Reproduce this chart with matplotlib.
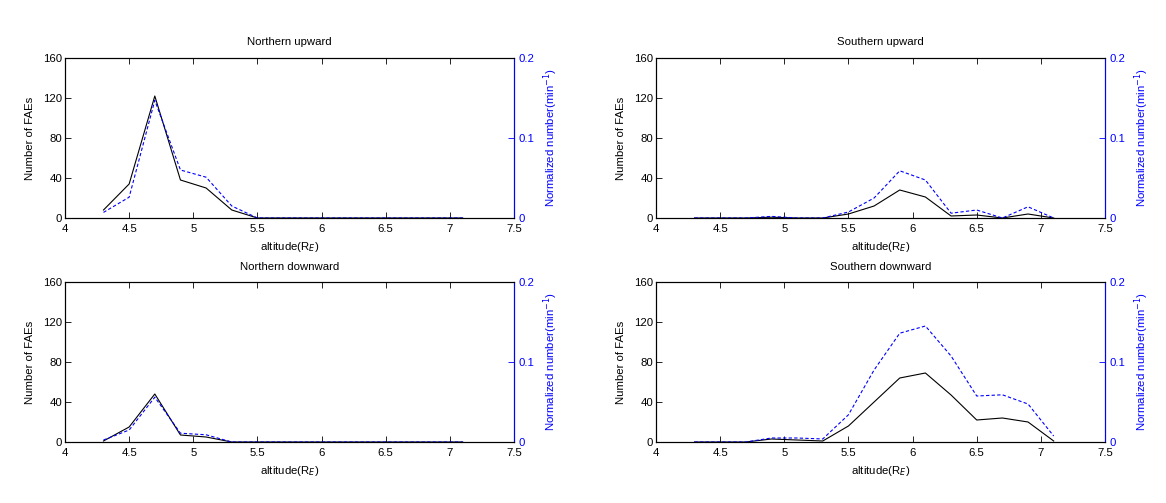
import matplotlib
matplotlib.use('Agg')
from matplotlib import pyplot as plt

plt.rcParams['font.family'] = ['Liberation Sans', 'DejaVu Sans']
plt.rcParams['font.size'] = 8.2

alt = [4.3, 4.5, 4.7, 4.9, 5.1, 5.3, 5.5, 5.7, 5.9, 6.1, 6.3, 6.5, 6.7, 6.9, 7.1]

# counts (left axis) and normalized numbers (right axis)
nu_cnt = [8, 34, 122, 38, 30, 8, 0, 0, 0, 0, 0, 0, 0, 0, 0]
nu_norm = [0.007, 0.026, 0.147, 0.06, 0.051, 0.015, 0, 0, 0, 0, 0, 0, 0, 0, 0]
su_cnt = [0, 0, 0, 0.8, 0, 0, 4, 12, 28, 21, 2, 3, 0, 4, 0]
su_norm = [0, 0, 0, 0.002, 0, 0, 0.0075, 0.025, 0.059, 0.0475, 0.006, 0.01, 0, 0.014, 0]
nd_cnt = [1, 15, 48, 7, 5, 0, 0, 0, 0, 0, 0, 0, 0, 0, 0]
nd_norm = [0.0025, 0.015, 0.056, 0.011, 0.009, 0, 0, 0, 0, 0, 0, 0, 0, 0, 0]
sd_cnt = [0, 0, 0, 3, 2, 1, 16, 40, 64, 69, 47, 22, 24, 20, 1]
sd_norm = [0, 0, 0, 0.005, 0.005, 0.0038, 0.034, 0.09, 0.136, 0.145, 0.1075, 0.0575, 0.059, 0.0475, 0.0075]

titles = ['Northern upward', 'Southern upward', 'Northern downward', 'Southern downward']
counts = [nu_cnt, su_cnt, nd_cnt, sd_cnt]
norms = [nu_norm, su_norm, nd_norm, sd_norm]

W, H = 1166, 503
fig = plt.figure(figsize=(W / 100, H / 100), dpi=100)
boxes = [(65, 58), (656, 58), (65, 282), (656, 282)]  # left, top in pixels
aw, ah = 449, 160

for i in range(4):
    l, t = boxes[i]
    ax = fig.add_axes([l / W, 1 - (t + ah) / H, aw / W, ah / H])
    ax.plot(alt, counts[i], color='k', lw=0.8)
    ax.set_xlim(4, 7.5)
    ax.set_ylim(0, 160)
    ax.set_xticks([4, 4.5, 5, 5.5, 6, 6.5, 7, 7.5])
    ax.set_xticklabels(['4', '4.5', '5', '5.5', '6', '6.5', '7', '7.5'])
    ax.set_yticks([0, 40, 80, 120, 160])
    ax.tick_params(direction='in', top=True, length=4, width=0.6, pad=2)
    ax.tick_params(axis='x', pad=4)
    ax.set_title(titles[i], fontsize=8.2, pad=9)
    ax.set_xlabel('altitude(R$_E$)', labelpad=5)
    ax.set_ylabel('Number of FAEs', labelpad=6)
    for s in ax.spines.values():
        s.set_linewidth(0.8)

    ax2 = ax.twinx()
    ax2.plot(alt, norms[i], color='b', lw=0.8, ls=(0, (3, 2)))
    ax2.set_ylim(0, 0.2)
    ax2.set_yticks([0, 0.1, 0.2])
    ax2.set_yticklabels(['0', '0.1', '0.2'])
    ax2.tick_params(direction='in', length=4, width=0.6, colors='b', pad=3)
    ax2.spines['right'].set_color('b')
    ax2.spines['right'].set_linewidth(0.8)
    ax2.set_ylabel('Normalized number(min$^{-1}$)', color='b', labelpad=5)

fig.savefig('out.png', dpi=100)
